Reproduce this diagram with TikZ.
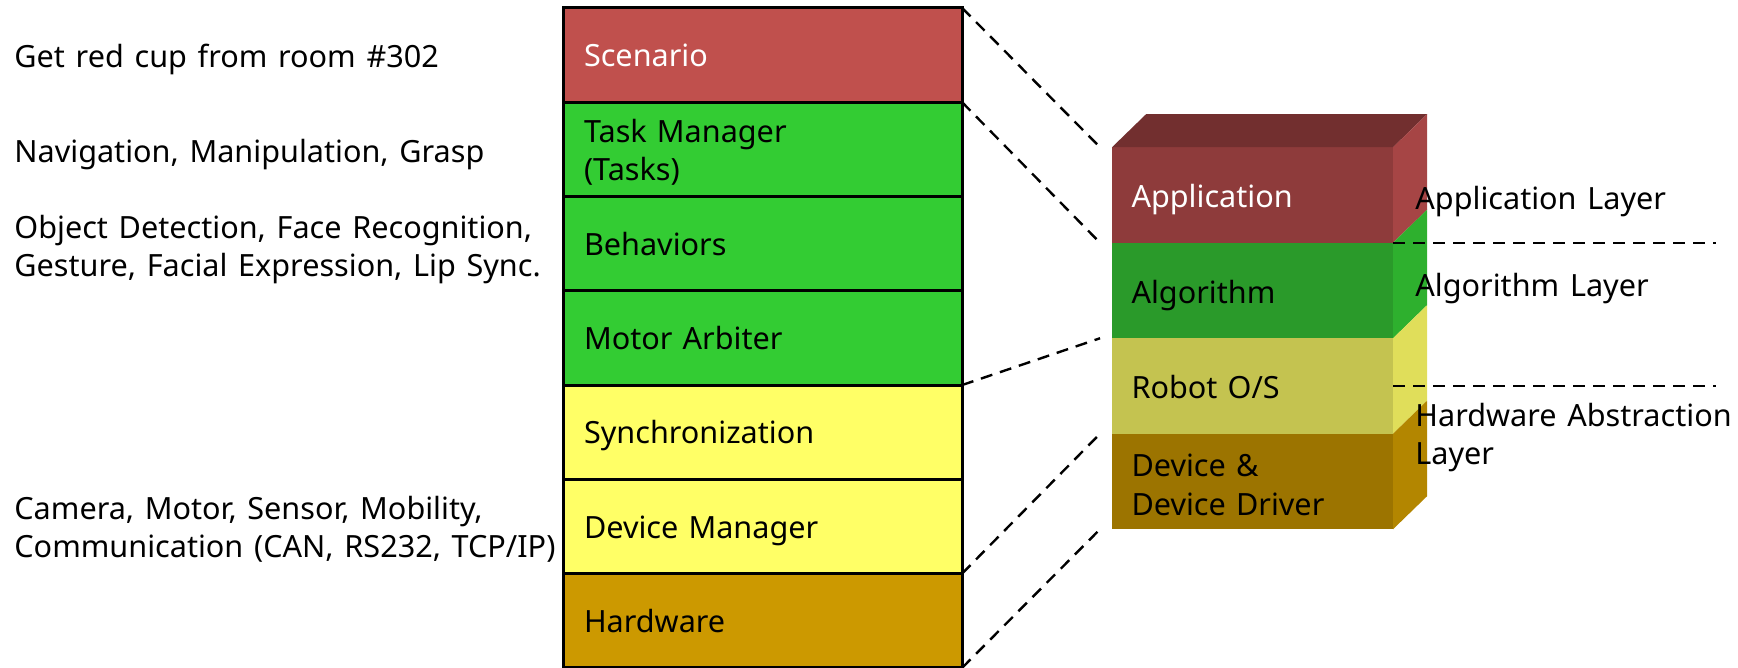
\documentclass[tikz,border=0pt]{standalone}
\usepackage{fontspec}
\setmainfont{Noto Sans}[WordSpace=1.35]
\begin{document}
\begin{tikzpicture}[x=0.5pt,y=-0.5pt,
  font=\fontsize{15.3pt}{19.2pt}\selectfont,
  layer/.style={draw=black, line width=1.5pt, outer sep=0pt,
    minimum width=199.5pt, minimum height=47.15pt, text width=178.5pt,
    inner xsep=10.5pt, inner ysep=0pt, align=left},
  oneline/.style={text height=13.8pt, text depth=2.3pt},
  twoline/.style={execute at begin node={\rule{0pt}{14.6pt}}},
  face/.style={outer sep=0pt, minimum width=140.5pt, minimum height=47.75pt,
    text width=121pt, inner xsep=9.75pt, inner ysep=0pt, align=left},
  faceline/.style={text height=14.6pt, text depth=2pt},
  note/.style={anchor=west, inner sep=0pt, align=left},
  link/.style={dash pattern=on 6pt off 4pt, line width=1.2pt},
  rule/.style={dash pattern=on 6pt off 4pt, line width=1.2pt}]
\definecolor{scenC}{RGB}{192,80,77}
\definecolor{greenC}{RGB}{51,204,51}
\definecolor{yellowC}{RGB}{255,255,102}
\definecolor{hwC}{RGB}{204,153,0}
\definecolor{appTop}{RGB}{114,47,47}
\definecolor{appFront}{RGB}{142,59,59}
\definecolor{appSide}{RGB}{166,69,69}
\definecolor{algFront}{RGB}{42,154,42}
\definecolor{algSide}{RGB}{46,176,46}
\definecolor{rosFront}{RGB}{196,195,80}
\definecolor{rosSide}{RGB}{224,222,90}
\definecolor{devFront}{RGB}{156,116,0}
\definecolor{devSide}{RGB}{179,134,0}

\useasboundingbox (0,0) rectangle (1738,668);

% left column of software layers
\node[layer, oneline, fill=scenC, text=white] (scen) at (762.5,55) {Scenario};
\node[layer, twoline, fill=greenC, anchor=north] (task) at (scen.south) {Task Manager\\(Tasks)};
\node[layer, oneline, fill=greenC, anchor=north] (beh) at (task.south) {Behaviors};
\node[layer, oneline, fill=greenC, anchor=north] (mot) at (beh.south) {Motor Arbiter};
\node[layer, oneline, fill=yellowC, anchor=north] (sync) at (mot.south) {Synchronization};
\node[layer, oneline, fill=yellowC, anchor=north] (devm) at (sync.south) {Device Manager};
\node[layer, oneline, fill=hwC, anchor=north] (hw) at (devm.south) {Hardware};

% descriptions on the left
\node[note] (n1) at (14,59.4) {Get red cup from room \#302};
\node[note] (n2) at (14,154.4) {Navigation, Manipulation, Grasp};
\node[note] (n3) at (14,249.3) {Object Detection, Face Recognition,\\Gesture, Facial Expression, Lip Sync.};
\node[note] (n4) at (14,529) {Camera, Motor, Sensor, Mobility,\\Communication (CAN, RS232, TCP/IP)};

% front faces of the block
\node[face, faceline, fill=appFront, text=white] (app) at (1252.5,195) {Application};
\node[face, faceline, fill=algFront, anchor=north] (alg) at (app.south) {Algorithm};
\node[face, faceline, fill=rosFront, anchor=north] (ros) at (alg.south) {Robot O/S};
\node[face, twoline, fill=devFront, anchor=north] (dev) at (ros.south) {Device \&\\Device Driver};

% top and side faces
\fill[appTop] (app.north west) -- ++(34,-33) -- ([shift={(34,-33)}]app.north east) -- (app.north east) -- cycle;
\foreach \f/\c in {app/appSide, alg/algSide, ros/rosSide, dev/devSide}
  \fill[\c] (\f.north east) -- ++(34,-33) -- ([shift={(34,-33)}]\f.south east) -- (\f.south east) -- cycle;

% layer labels and separators
\node[note] (l1) at (1415,201.3) {Application Layer};
\node[note] (l2) at (1415,288.3) {Algorithm Layer};
\node[note] (l3) at (1415,437.4) {Hardware Abstraction\\Layer};
\coordinate (r1) at ([xshift=161.5pt]alg.north east);
\coordinate (r2) at ([xshift=161.5pt]ros.east);
\draw[rule] (alg.north east) -- (r1);
\draw[rule] (ros.east) -- (r2);

% mapping between the two views
\draw[link] (scen.north east) -- ([xshift=-6pt]app.north west);
\draw[link] (task.north east) -- ([xshift=-6pt]alg.north west);
\draw[link] (mot.south east) -- ([xshift=-6pt]ros.north west);
\draw[link] (devm.south east) -- ([xshift=-6pt]dev.north west);
\draw[link] (hw.south east) -- ([xshift=-6pt]dev.south west);
\end{tikzpicture}
\end{document}
